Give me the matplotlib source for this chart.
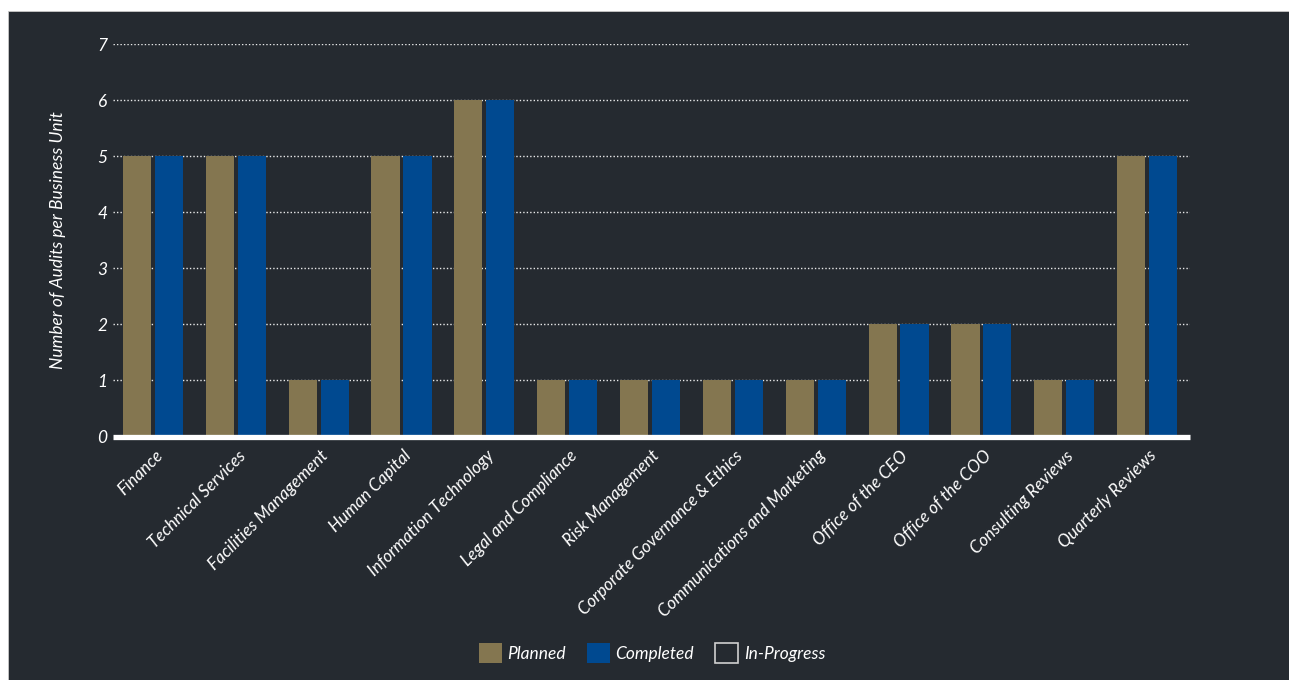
import matplotlib.pyplot as plt
from matplotlib.patches import Rectangle, Patch

# data
categories = ['Finance', 'Technical Services', 'Facilities Management', 'Human Capital',
              'Information Technology', 'Legal and Compliance', 'Risk Management',
              'Corporate Governance & Ethics', 'Communications and Marketing',
              'Office of the CEO', 'Office of the COO', 'Consulting Reviews', 'Quarterly Reviews']
planned = [5, 5, 1, 5, 6, 1, 1, 1, 1, 2, 2, 1, 5]
completed = [5, 5, 1, 5, 6, 1, 1, 1, 1, 2, 2, 1, 5]
in_progress = [0, 0, 0, 0, 0, 0, 0, 0, 0, 0, 0, 0, 0]
y_ticks = [0, 1, 2, 3, 4, 5, 6, 7]

BG = '#252a30'
PLANNED_COLOR = '#847650'
COMPLETED_COLOR = '#004990'
FONT = 'Lato'

fig = plt.figure(figsize=(12.89, 6.80), dpi=100)
fig.patch.set_facecolor('white')
# dark board behind the chart, leaving the thin white margin top/left
fig.patches.append(Rectangle((8 / 1289, 0), 1 - 8 / 1289, 669 / 680,
                             transform=fig.transFigure, facecolor=BG,
                             edgecolor='#c8c8c8', linewidth=0.6, zorder=-10))

ax = fig.add_axes([113 / 1289, 1 - 436.5 / 680, (1190 - 113) / 1289, (436.5 - 44) / 680])
ax.set_facecolor('none')
ax.set_zorder(1)

x = list(range(len(categories)))
w = 0.34
ax.bar([i - 0.21 for i in x], planned, width=w, color=PLANNED_COLOR, zorder=2)
ax.bar([i + 0.175 for i in x], completed, width=w, color=COMPLETED_COLOR, zorder=2)
ax.bar([i + 0.45 for i in x], in_progress, width=0.1, color=BG, edgecolor='none', zorder=2)

ax.set_xlim(-0.5, len(categories) - 0.5)
ax.set_ylim(0, 7)

# dotted gridlines
for v in y_ticks[1:]:
    ax.axhline(v, color='white', linestyle=(0, (1, 1.5)), linewidth=1.0, alpha=0.9, zorder=1)
# thick white baseline
ax.axhline(0, color='white', linewidth=3.8, zorder=3, clip_on=False, solid_capstyle='butt')

for s in ax.spines.values():
    s.set_visible(False)

ax.set_yticks(y_ticks)
ax.set_yticklabels([str(v) for v in y_ticks], fontsize=12.5, color='white',
                   fontstyle='italic', family=FONT)
ax.tick_params(axis='y', length=0, pad=4)

ax.set_xticks(x)
ax.set_xticklabels(categories, rotation=45, ha='right', va='top', rotation_mode='anchor',
                   fontsize=12.3, color='white', fontstyle='italic', family=FONT)
ax.tick_params(axis='x', length=0, pad=8)

ax.set_ylabel('Number of Audits per Business Unit', fontsize=12.5, color='white',
              fontstyle='italic', family=FONT, labelpad=0)
ax.yaxis.set_label_coords(-0.044, 0.5)

handles = [Patch(facecolor=PLANNED_COLOR, edgecolor='none'),
           Patch(facecolor=COMPLETED_COLOR, edgecolor='none'),
           Patch(facecolor=BG, edgecolor='#d0d0d0', linewidth=1.2)]
leg = fig.legend(handles, ['Planned', 'Completed', 'In-Progress'], loc='center',
                 bbox_to_anchor=(652 / 1289, 1 - 653 / 680), ncol=3, frameon=False,
                 handlelength=1.35, handleheight=1.35, handletextpad=0.3,
                 columnspacing=1.2, prop={'family': FONT, 'style': 'italic', 'size': 12.5})
for t in leg.get_texts():
    t.set_color('white')

fig.savefig('out.png', dpi=100, facecolor=fig.get_facecolor())
